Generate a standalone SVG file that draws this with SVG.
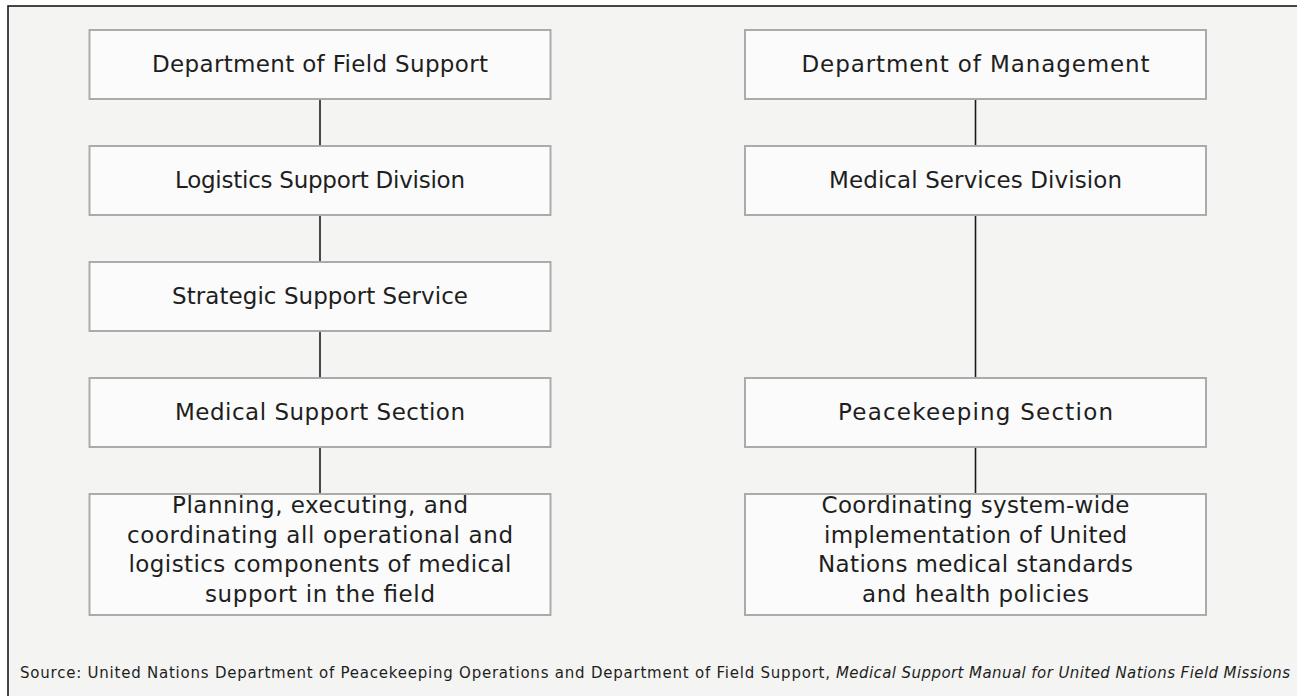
<svg xmlns="http://www.w3.org/2000/svg" width="1297" height="696" viewBox="0 0 1297 696">
<style>
.box{fill:#fbfbfb;stroke:#ababab;stroke-width:2}
.lbl{font-family:"DejaVu Sans","Liberation Sans",sans-serif;font-size:23px;fill:#1e1e1e;text-anchor:middle}
.con{stroke:#1c1c1c;stroke-width:1.6;fill:none}
.src{font-family:"DejaVu Sans","Liberation Sans",sans-serif;font-size:15px;fill:#1e1e1e}
</style>
<rect x="0" y="0" width="1297" height="696" fill="#ffffff"/>
<rect x="8" y="6" width="1300" height="700" fill="#f4f4f2" stroke="#1a1a1a" stroke-width="1.6"/>
<g id="connectors">
<line class="con" x1="320" y1="99" x2="320" y2="146"/>
<line class="con" x1="320" y1="215" x2="320" y2="262"/>
<line class="con" x1="320" y1="331" x2="320" y2="378"/>
<line class="con" x1="320" y1="447" x2="320" y2="494"/>
<line class="con" x1="975.5" y1="99" x2="975.5" y2="146"/>
<line class="con" x1="975.5" y1="215" x2="975.5" y2="378"/>
<line class="con" x1="975.5" y1="447" x2="975.5" y2="494"/>
</g>
<g id="n-dfs">
<rect class="box" x="89.5" y="30" width="461" height="69"/>
<text class="lbl" x="320" y="72" textLength="336" lengthAdjust="spacing">Department of Field Support</text>
</g>
<g id="n-lsd">
<rect class="box" x="89.5" y="146" width="461" height="69"/>
<text class="lbl" x="320" y="188" textLength="290" lengthAdjust="spacing">Logistics Support Division</text>
</g>
<g id="n-sss">
<rect class="box" x="89.5" y="262" width="461" height="69"/>
<text class="lbl" x="320" y="304" textLength="296" lengthAdjust="spacing">Strategic Support Service</text>
</g>
<g id="n-mss">
<rect class="box" x="89.5" y="378" width="461" height="69"/>
<text class="lbl" x="320" y="420" textLength="290" lengthAdjust="spacing">Medical Support Section</text>
</g>
<g id="n-plan">
<rect class="box" x="89.5" y="494" width="461" height="121"/>
<text class="lbl" x="320" y="513" textLength="296" lengthAdjust="spacing">Planning, executing, and</text>
<text class="lbl" x="320" y="543" textLength="386" lengthAdjust="spacing">coordinating all operational and</text>
<text class="lbl" x="320" y="572" textLength="383" lengthAdjust="spacing">logistics components of medical</text>
<text class="lbl" x="320" y="602" textLength="230" lengthAdjust="spacing">support in the field</text>
</g>
<g id="n-dm">
<rect class="box" x="745" y="30" width="461" height="69"/>
<text class="lbl" x="975.5" y="72" textLength="348" lengthAdjust="spacing">Department of Management</text>
</g>
<g id="n-msd">
<rect class="box" x="745" y="146" width="461" height="69"/>
<text class="lbl" x="975.5" y="188" textLength="293" lengthAdjust="spacing">Medical Services Division</text>
</g>
<g id="n-ps">
<rect class="box" x="745" y="378" width="461" height="69"/>
<text class="lbl" x="975.5" y="420" textLength="275" lengthAdjust="spacing">Peacekeeping Section</text>
</g>
<g id="n-coord">
<rect class="box" x="745" y="494" width="461" height="121"/>
<text class="lbl" x="975.5" y="513" textLength="308" lengthAdjust="spacing">Coordinating system-wide</text>
<text class="lbl" x="975.5" y="543" textLength="303" lengthAdjust="spacing">implementation of United</text>
<text class="lbl" x="975.5" y="572" textLength="315" lengthAdjust="spacing">Nations medical standards</text>
<text class="lbl" x="975.5" y="602" textLength="227" lengthAdjust="spacing">and health policies</text>
</g>
<g id="source">
<text class="src" x="20" y="678" textLength="810" lengthAdjust="spacing">Source: United Nations Department of Peacekeeping Operations and Department of Field Support,</text>
<text class="src" x="836" y="678" font-style="italic" textLength="454" lengthAdjust="spacing">Medical Support Manual for United Nations Field Missions</text>
</g>
</svg>
